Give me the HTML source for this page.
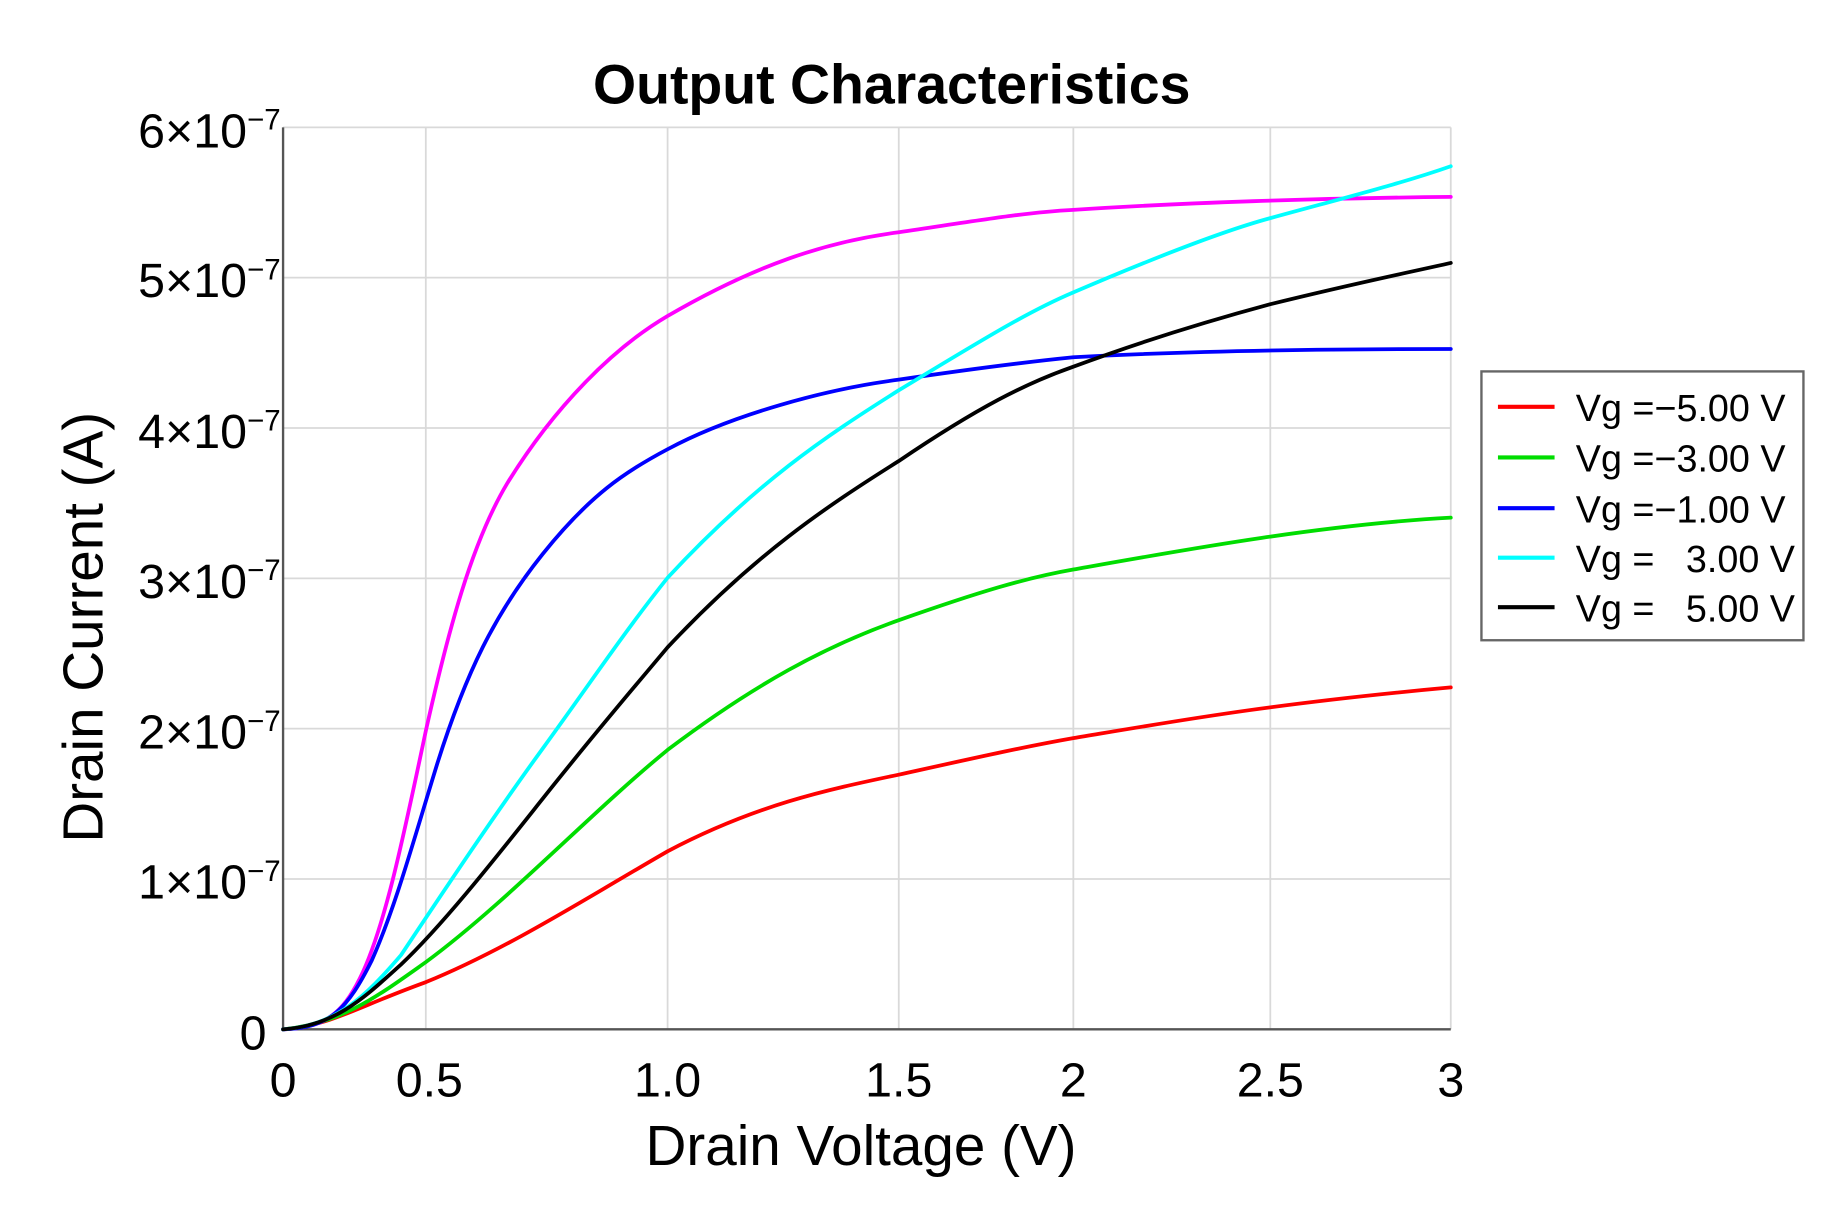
<!DOCTYPE html>
<html><head><meta charset="utf-8"><style>html,body{margin:0;padding:0;background:#fff}svg{display:block}</style></head>
<body>
<svg width="1840" height="1218" viewBox="0 0 1560 1033" preserveAspectRatio="none" xmlns="http://www.w3.org/2000/svg" font-family="Liberation Sans, sans-serif">
<rect width="1560" height="1033" fill="#fff"/>
<g stroke="#d9d9d9" stroke-width="1.5">
<line x1="361" y1="108" x2="361" y2="873"/><line x1="566" y1="108" x2="566" y2="873"/><line x1="762" y1="108" x2="762" y2="873"/><line x1="910" y1="108" x2="910" y2="873"/><line x1="1077" y1="108" x2="1077" y2="873"/><line x1="1230" y1="108" x2="1230" y2="873"/>
<line x1="240" y1="108" x2="1230" y2="108"/><line x1="240" y1="235.5" x2="1230" y2="235.5"/><line x1="240" y1="363" x2="1230" y2="363"/><line x1="240" y1="490.5" x2="1230" y2="490.5"/><line x1="240" y1="618" x2="1230" y2="618"/><line x1="240" y1="745.5" x2="1230" y2="745.5"/>
</g>
<g stroke="#555" stroke-width="2"><line x1="240" y1="108" x2="240" y2="873"/><line x1="240" y1="873" x2="1230" y2="873"/></g>
<g fill="none" stroke-width="3.2" stroke-linejoin="round" stroke-linecap="round">
<path stroke="#ff0000" d="M240,873 C280,870 300,855 361,833 C430,805 500,760 566,722 C640,683 700,670 762,657 C830,642 870,633 910,626 C1000,611 1077,597 1230,583"/>
<path stroke="#00dd00" d="M240,873 C290,868 320,845 361,816 C430,765 500,690 566,636 C640,580 700,548 762,526 C830,502 870,490 910,483 C1000,467 1120,445 1230,439"/>
<path stroke="#ff00ff" d="M240,873 C275,872 290,860 305,830 C325,790 340,720 361,620 C380,535 400,460 430,410 C470,345 520,295 566,268 C640,225 700,205 762,197 C830,187 870,180 910,178 C1000,172 1120,168 1230,167"/>
<path stroke="#0000ff" d="M240,873 C280,872 295,855 315,815 C335,770 350,715 370,650 C395,570 420,520 460,470 C500,420 530,400 566,381 C620,352 700,330 762,322 C830,312 870,307 910,303 C1000,298 1120,296 1230,296"/>
<path stroke="#00ffff" d="M240,873 C285,870 310,845 340,810 C380,750 420,690 460,635 C500,580 530,535 566,490 C640,410 700,370 762,331 C830,290 870,265 910,248 C980,218 1040,195 1077,185 C1150,165 1190,155 1230,141"/>
<path stroke="#000" d="M240,873 C285,870 310,845 340,818 C380,780 430,715 470,665 C510,615 540,580 566,549 C640,470 700,430 762,391 C830,345 870,325 910,311 C980,285 1040,268 1077,258 C1150,240 1190,232 1230,223"/>
</g>
<text x="756" y="88" font-size="47" font-weight="bold" text-anchor="middle">Output Characteristics</text>
<g font-size="41" text-anchor="middle">
<text x="240" y="930">0</text><text x="364" y="930">0.5</text><text x="566" y="930">1.0</text><text x="762" y="930">1.5</text><text x="910" y="930">2</text><text x="1077" y="930">2.5</text><text x="1230" y="930">3</text>
</g>
<text x="730" y="988" font-size="48" text-anchor="middle">Drain Voltage (V)</text>
<text transform="translate(87,532) rotate(-90)" font-size="48" text-anchor="middle">Drain Current (A)</text>
<g font-size="41" text-anchor="end">
<text x="226" y="890">0</text>
<text x="238" y="762">1×10<tspan dy="-15" font-size="25">−7</tspan></text>
<text x="238" y="635">2×10<tspan dy="-15" font-size="25">−7</tspan></text>
<text x="238" y="507">3×10<tspan dy="-15" font-size="25">−7</tspan></text>
<text x="238" y="380">4×10<tspan dy="-15" font-size="25">−7</tspan></text>
<text x="238" y="252">5×10<tspan dy="-15" font-size="25">−7</tspan></text>
<text x="238" y="125">6×10<tspan dy="-15" font-size="25">−7</tspan></text>
</g>
<rect x="1256" y="315" width="273" height="228" fill="#fff" stroke="#666" stroke-width="2"/>
<g stroke-width="3.5">
<line x1="1270" y1="345" x2="1318" y2="345" stroke="#ff0000"/>
<line x1="1270" y1="388" x2="1318" y2="388" stroke="#00dd00"/>
<line x1="1270" y1="431" x2="1318" y2="431" stroke="#0000ff"/>
<line x1="1270" y1="473" x2="1318" y2="473" stroke="#00ffff"/>
<line x1="1270" y1="515" x2="1318" y2="515" stroke="#000"/>
</g>
<g font-size="32">
<text x="1336" y="357">Vg =−5.00 V</text>
<text x="1336" y="400">Vg =−3.00 V</text>
<text x="1336" y="443">Vg =−1.00 V</text>
<text x="1336" y="485" xml:space="preserve">Vg =   3.00 V</text>
<text x="1336" y="527" xml:space="preserve">Vg =   5.00 V</text>
</g>
</svg>
</body></html>
